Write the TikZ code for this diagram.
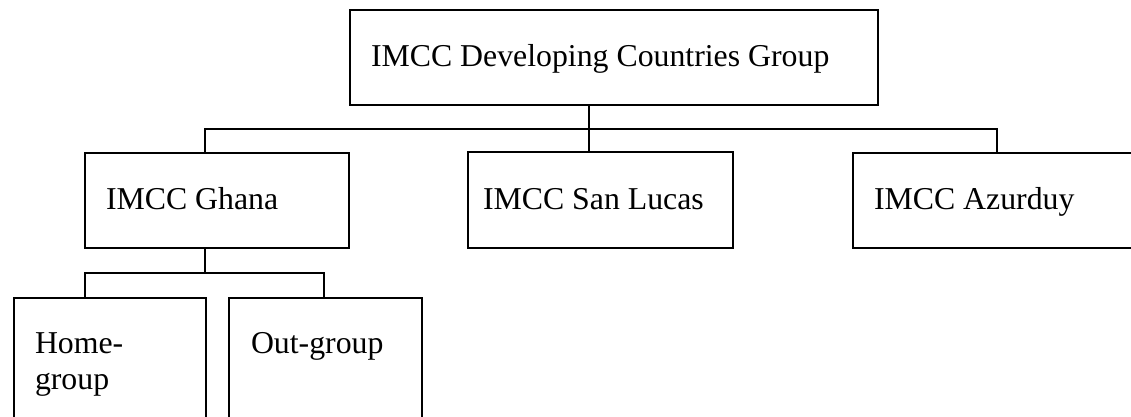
\documentclass[tikz,border=0pt]{standalone}
\usepackage{fontspec}
\setmainfont{Liberation Serif}
\begin{document}
\begin{tikzpicture}[x=1pt,y=-1pt,line width=1.4pt,
  box/.style={draw, rectangle, anchor=north west, inner sep=0pt, outer sep=0pt},
  lbl/.style={anchor=base west, inner sep=0pt, outer sep=0pt, font=\fontsize{31.8}{36}\selectfont}]
\clip (0,0) rectangle (1131,416);
\fill[white] (0,0) rectangle (1131,416);
% boxes
\node[box, minimum width=528pt, minimum height=95pt] (top) at (350,10) {};
\node[box, minimum width=264pt, minimum height=95pt] (ghana) at (85,153) {};
\node[box, minimum width=265pt, minimum height=96pt] (sanlucas) at (468,152) {};
\node[box, minimum width=300pt, minimum height=95pt] (azurduy) at (853,153) {};
\node[box, minimum width=192pt, minimum height=140pt] (home) at (14,298) {};
\node[box, minimum width=193pt, minimum height=140pt] (out) at (229,298) {};
% labels
\node[lbl] (ttop) at (371,66) {IMCC Developing Countries Group};
\node[lbl] (tghana) at (106,209) {IMCC Ghana};
\node[lbl] (tsan) at (483,209) {IMCC San Lucas};
\node[lbl] (taz) at (874,209) {IMCC Azurduy};
\node[lbl] (thome1) at (35,353) {Home-};
\node[lbl] (thome2) at (35,389) {group};
\node[lbl] (tout) at (251,353) {Out-group};
% connectors
\coordinate (jT) at (589,129);
\coordinate (jG) at (205,129);
\coordinate (jA) at (997,129);
\draw (top.south -| jT) -- (jT);
\draw (ghana.north -| jG) -- (jG) -- (jA) -- (azurduy.north -| jA);
\draw (jT) -- (sanlucas.north -| jT);
\coordinate (kG) at (205,273);
\coordinate (kH) at (85,273);
\coordinate (kO) at (324,273);
\draw (ghana.south -| kG) -- (kG);
\draw (home.north -| kH) -- (kH) -- (kO) -- (out.north -| kO);
\end{tikzpicture}
\end{document}
